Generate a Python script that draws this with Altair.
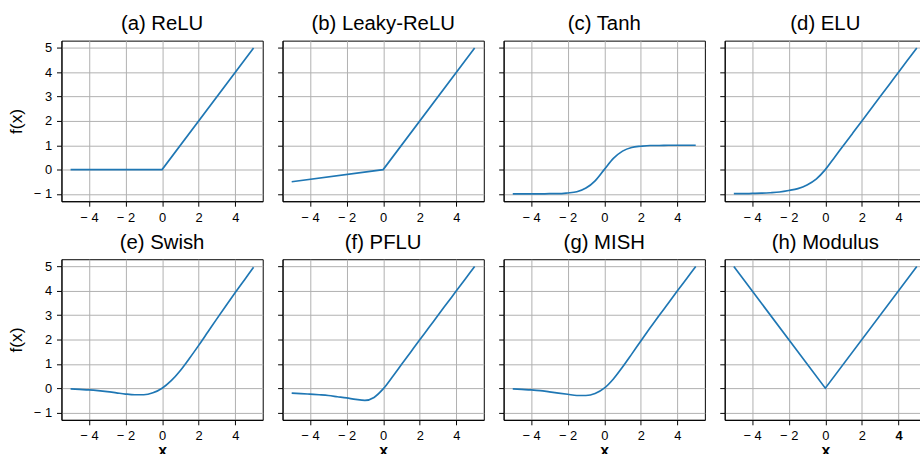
import altair as alt
import pandas as pd

# ---- data ----
X_HALF = [-5, -4.5, -4, -3.5, -3, -2.5, -2, -1.5, -1, -0.5, 0,
          0.5, 1, 1.5, 2, 2.5, 3, 3.5, 4, 4.5, 5]
X_KINK = [-5, 0, 5]

relu_y = [0, 0, 5]
leaky_y = [-0.5, 0, 5]
tanh_y = [-1.0, -1.0, -1.0, -1.0, -0.99, -0.99, -0.96, -0.91, -0.76, -0.46, 0.0,
          0.46, 0.76, 0.91, 0.96, 0.99, 0.99, 1.0, 1.0, 1.0, 1.0]
elu_y = [-0.99, -0.99, -0.98, -0.97, -0.95, -0.92, -0.86, -0.78, -0.63, -0.39, 0.0,
         0.5, 1.0, 1.5, 2.0, 2.5, 3.0, 3.5, 4.0, 4.5, 5.0]
swish_y = [-0.03, -0.05, -0.07, -0.10, -0.14, -0.19, -0.24, -0.27, -0.27, -0.19, 0.0,
           0.31, 0.73, 1.23, 1.76, 2.31, 2.86, 3.40, 3.93, 4.45, 4.97]
pflu_y = [-0.20, -0.22, -0.245, -0.27, -0.30, -0.35, -0.40, -0.46, -0.50, -0.38, -0.03,
          0.46, 0.97, 1.48, 1.99, 2.49, 3.0, 3.5, 4.0, 4.5, 5.0]
mish_y = [-0.03, -0.05, -0.07, -0.10, -0.15, -0.20, -0.25, -0.30, -0.30, -0.22, 0.0,
          0.38, 0.87, 1.40, 1.94, 2.47, 2.99, 3.49, 4.0, 4.5, 5.0]
modulus_y = [5, 0, 5]

titles = ["(a) ReLU", "(b) Leaky-ReLU", "(c) Tanh", "(d) ELU",
          "(e) Swish", "(f) PFLU", "(g) MISH", "(h) Modulus"]
series = [(X_KINK, relu_y, "linear"), (X_KINK, leaky_y, "linear"),
          (X_HALF, tanh_y, "monotone"), (X_HALF, elu_y, "monotone"),
          (X_HALF, swish_y, "monotone"), (X_HALF, pflu_y, "monotone"),
          (X_HALF, mish_y, "monotone"), (X_KINK, modulus_y, "linear")]

x_ticks = [-4, -2, 0, 2, 4]
y_ticks = [-1, 0, 1, 2, 3, 4, 5]

FONT = "Liberation Sans"
W, H = 203, 162
label_expr = "datum.value < 0 ? '\u2212 ' + abs(datum.value) : datum.label"


def panel(i):
    xs, ys, interp = series[i]
    df = pd.DataFrame({"x": xs, "y": ys})
    first_col = i % 4 == 0
    bottom = i >= 4
    x_axis_kw = dict(values=x_ticks, labelExpr=label_expr, title="x" if bottom else None,
                     titleFontWeight="bold", titleFontSize=16, titlePadding=0)
    if i == 7:
        x_axis_kw["labelFontWeight"] = {"condition": {"test": "datum.value == 4", "value": "bold"},
                                        "value": "normal"}
    y_axis_kw = dict(values=y_ticks, labels=first_col, labelExpr=label_expr,
                     title="f(x)" if first_col else None, titleFontSize=17.5,
                     titleFontWeight="normal", titlePadding=8)
    return alt.Chart(df).mark_line(
        color="#1f77b4", strokeWidth=1.7, interpolate=interp, clip=True
    ).encode(
        x=alt.X("x:Q", scale=alt.Scale(domain=[-5.5, 5.5], nice=False, zero=False),
                axis=alt.Axis(**x_axis_kw)),
        y=alt.Y("y:Q", scale=alt.Scale(domain=[-1.3, 5.3], nice=False, zero=False),
                axis=alt.Axis(**y_axis_kw)),
    ).properties(
        width=W, height=H,
        title=alt.TitleParams(titles[i], fontSize=20.5, font=FONT, fontWeight="normal",
                              color="black", offset=6, anchor="middle"),
    )


row1 = alt.hconcat(*[panel(i) for i in range(4)], spacing=13)
row2 = alt.hconcat(*[panel(i) for i in range(4, 8)], spacing=13)

chart = alt.vconcat(row1, row2, spacing=7.5).properties(
    padding={"left": 7, "top": 12, "right": -7, "bottom": -4},
    background="white",
).configure_view(
    stroke="black", strokeWidth=1
).configure_axis(
    grid=True, gridColor="#b0b0b0", gridWidth=1, gridOpacity=1,
    domainColor="black", domainWidth=1,
    tickColor="black", tickSize=5, tickWidth=1,
    labelFont=FONT, labelFontSize=13, labelColor="black", labelPadding=5,
    titleFont=FONT, titleColor="black",
)

chart.save("out.html", embed_options={"renderer": "svg", "actions": False})
